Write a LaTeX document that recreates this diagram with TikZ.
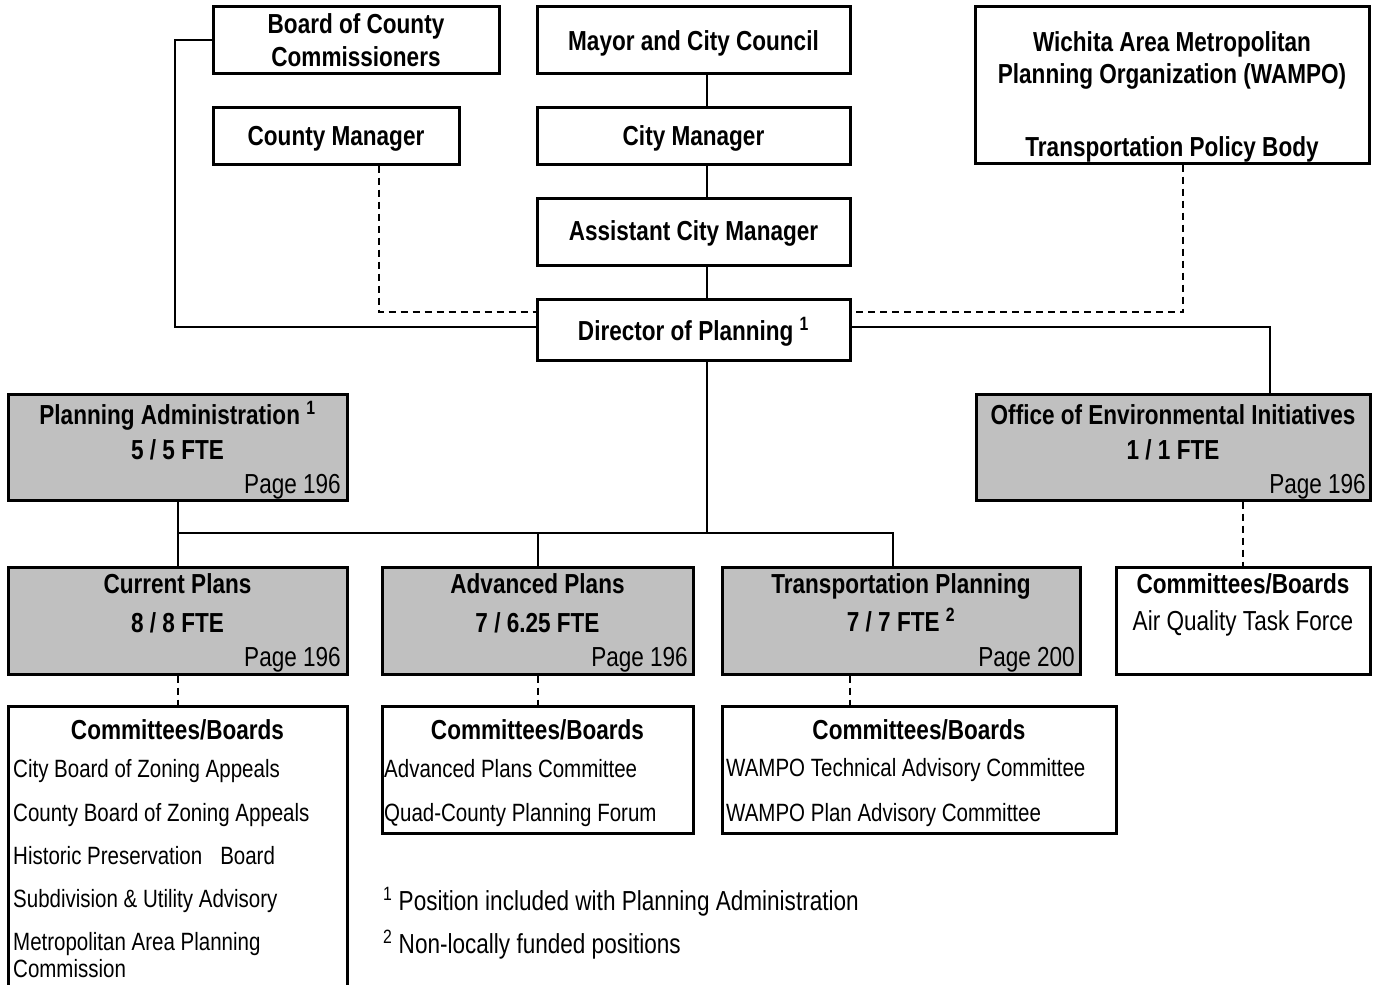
\documentclass[tikz,border=0pt]{standalone}
\usepackage{fontspec}
\setmainfont{Liberation Sans}[FakeStretch=0.82]
\usetikzlibrary{positioning}
\definecolor{boxgray}{HTML}{C0C0C0}
\tikzset{
  orgbox/.style={draw,line width=3pt,inner sep=0pt,fill=white},
  unitbox/.style={orgbox,fill=boxgray},
  hd/.style={font=\bfseries\fontsize{27.5}{28}\selectfont,anchor=base,inner sep=0pt},
  txt/.style={font=\fontsize{27.5}{28}\selectfont,inner sep=0pt},
  itm/.style={font=\fontsize{25}{26}\selectfont,anchor=base west,inner sep=0pt},
  conn/.style={line width=2pt},
  dconn/.style={conn,dash pattern=on 7pt off 5pt},
}
\begin{document}
\begin{tikzpicture}[x=1pt,y=-1pt]
  \path[use as bounding box,clip] (0,0) rectangle (1376,985);
  % top: county, city, wampo
  \node[orgbox,minimum width=286pt,minimum height=67pt] (board) at (356,39.5) {};
  \node[orgbox,minimum width=246pt,minimum height=57pt] (cman) at (336,135.5) {};
  \node[orgbox,minimum width=313pt,minimum height=67pt] (mayor) at (693.5,39.5) {};
  \node[orgbox,minimum width=313pt,minimum height=57pt] (cityman) at (693.5,135.5) {};
  \node[orgbox,minimum width=313pt,minimum height=67pt] (acm) at (693.5,231.5) {};
  \node[orgbox,minimum width=313pt,minimum height=61pt] (dir) at (693.5,329.5) {};
  \node[orgbox,minimum width=394pt,minimum height=157pt] (wampo) at (1172,84.5) {};
  \node[hd] at (356,33.5) {Board of County};
  \node[hd] at (356,66) {Commissioners};
  \node[hd] at (336,145) {County Manager};
  \node[hd] at (693.5,50) {Mayor and City Council};
  \node[hd] at (693.5,145) {City Manager};
  \node[hd] at (693.5,240) {Assistant City Manager};
  \node[hd] at (693.5,340) {Director of Planning \textsuperscript{1}};
  \node[hd] at (1172,51) {Wichita Area Metropolitan};
  \node[hd] at (1172,83) {Planning Organization (WAMPO)};
  \node[hd] at (1172,156) {Transportation Policy Body};
  % divisions
  \node[unitbox,minimum width=339pt,minimum height=106pt] (padm) at (177.5,447) {};
  \node[unitbox,minimum width=394pt,minimum height=106pt] (oei) at (1173,447) {};
  \node[unitbox,minimum width=339pt,minimum height=107pt] (cur) at (177.5,620.5) {};
  \node[unitbox,minimum width=311pt,minimum height=107pt] (adv) at (537.5,620.5) {};
  \node[unitbox,minimum width=358pt,minimum height=107pt] (trp) at (901,620.5) {};
  \node[orgbox,minimum width=254pt,minimum height=107pt] (aqc) at (1243,620.5) {};
  \node[hd] at (177.5,424) {Planning Administration \textsuperscript{1}};
  \node[hd] at (177.5,459) {5 / 5 FTE};
  \node[hd] at (1173,424) {Office of Environmental Initiatives};
  \node[hd] at (1173,459) {1 / 1 FTE};
  \node[hd] at (177.5,593) {Current Plans};
  \node[hd] at (177.5,632) {8 / 8 FTE};
  \node[hd] at (537.5,593) {Advanced Plans};
  \node[hd] at (537.5,632) {7 / 6.25 FTE};
  \node[hd] at (901,593) {Transportation Planning};
  \node[hd] at (901,631) {7 / 7 FTE \textsuperscript{2}};
  \node[hd] at (1243,593) {Committees/Boards};
  \node[txt,anchor=base] at (1243,630) {Air Quality Task Force};
  \foreach \x/\y/\pg in {341/493/196,1366/493/196,341/666/196,688/666/196,1075/666/200}
    \node[txt,anchor=base east] at (\x,\y) {Page \pg};
  % committees
  \node[orgbox,minimum width=339pt,minimum height=300pt] (curlist) at (177.5,856) {};
  \node[orgbox,minimum width=311pt,minimum height=127pt] (advlist) at (537.5,769.5) {};
  \node[orgbox,minimum width=394pt,minimum height=127pt] (trplist) at (919,769.5) {};
  \foreach \x in {177.5,537.5,919}
    \node[hd] at (\x,739) {Committees/Boards};
  \foreach \y/\lab in {777/City Board of Zoning Appeals,821/County Board of Zoning Appeals,
      864/Historic Preservation\hspace{18pt}Board,907/Subdivision \& Utility Advisory,
      950/Metropolitan Area Planning,977/Commission}
    \node[itm] at (13,\y) {\lab};
  \node[itm] at (384,777) {Advanced Plans Committee};
  \node[itm] at (384,821) {Quad-County Planning Forum};
  \node[itm] at (726,776) {WAMPO Technical Advisory Committee};
  \node[itm] at (726,821) {WAMPO Plan Advisory Committee};
  % notes
  \node[txt,anchor=base west] (fn1) at (383,910) {\textsuperscript{1} Position included with Planning Administration};
  \node[txt,anchor=base west] (fn2) at (383,953) {\textsuperscript{2} Non-locally funded positions};
  % connectors
  \coordinate (spine) at (707,0);
  \coordinate (bus) at (0,533);
  \coordinate (trpin) at (893,567);
  \draw[conn] (mayor.south -| spine) -- (cityman.north -| spine);
  \draw[conn] (cityman.south -| spine) -- (acm.north -| spine);
  \draw[conn] (acm.south -| spine) -- (dir.north -| spine);
  \draw[conn] (dir.south -| spine) -- (bus -| spine);
  \draw[conn] (padm.south) -- (cur.north);
  \draw[conn] (padm.south |- bus) -| (trpin);
  \draw[conn] (adv.north |- bus) -- (adv.north);
  \draw[conn] (board.west) -- ++(-37,0) |- ([yshift=2.5pt]dir.west);
  \draw[conn] ([yshift=2.5pt]dir.east) -| ([xshift=97pt]oei.north);
  \draw[dconn] ([xshift=43pt]cman.south) |- ([yshift=17.5pt]dir.west);
  \draw[dconn] ([xshift=11pt]wampo.south) |- ([yshift=17.5pt]dir.east);
  \draw[dconn] (oei.south -| aqc.north) -- (aqc.north);
  \draw[dconn] (cur.south) -- (curlist.north);
  \draw[dconn] (adv.south) -- (advlist.north);
  \draw[dconn] ([xshift=-51pt]trp.south) -- ([xshift=-69pt]trplist.north);
\end{tikzpicture}
\end{document}
